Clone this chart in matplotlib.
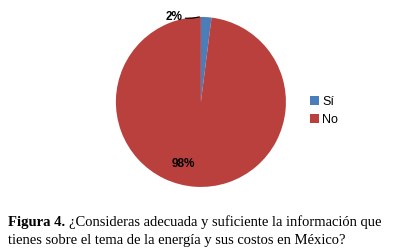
import matplotlib
matplotlib.use("Agg")
from matplotlib import pyplot as plt

labels = ["Sí", "No"]
values = [2, 98]
colors = ["#4A7EBB", "#BA403D"]

fig = plt.figure(figsize=(4.01, 2.52), dpi=100)
ax = fig.add_axes([0.289, 0.258, 0.424, 0.675])
wedges, _ = ax.pie(values, colors=colors, startangle=90, counterclock=False,
                   radius=1.0, wedgeprops=dict(linewidth=0))
ax.set_xlim(-1, 1)
ax.set_ylim(-1, 1)
ax.set_aspect("equal")
ax.axis("off")

# percentage labels
ax.text(-0.21, -0.73, f"{values[1]}%", ha="center", va="center", fontsize=8.5,
        fontweight="bold", fontfamily="Liberation Sans")
ax.text(-0.31, 1.0, f"{values[0]}%", ha="center", va="center", fontsize=8.5,
        fontweight="bold", fontfamily="Liberation Sans")
# leader line
ax.plot([-0.18, -0.1, -0.02], [0.985, 0.985, 1.0], color="black", lw=0.8,
        clip_on=False)

fig.legend(wedges, labels, loc="center left", bbox_to_anchor=(0.745, 0.56),
           frameon=False, handlelength=0.7, handleheight=0.7,
           handletextpad=0.3, labelspacing=0.45,
           prop={"family": "Liberation Sans", "size": 9})

t1 = fig.text(0.02, 0.118, "Figura 4.", fontsize=10.5, fontweight="bold",
              fontfamily="Liberation Serif", ha="left", va="center")
fig.canvas.draw()
bb = t1.get_window_extent()
x2 = (bb.x1 + 4) / fig.bbox.width
fig.text(x2, 0.118, "¿Consideras adecuada y suficiente la información que",
         fontsize=10.5, fontfamily="Liberation Serif", ha="left", va="center")
fig.text(0.02, 0.045, "tienes sobre el tema de la energía y sus costos en México?",
         fontsize=10.5, fontfamily="Liberation Serif", ha="left", va="center")

fig.savefig("out.png", dpi=100)
